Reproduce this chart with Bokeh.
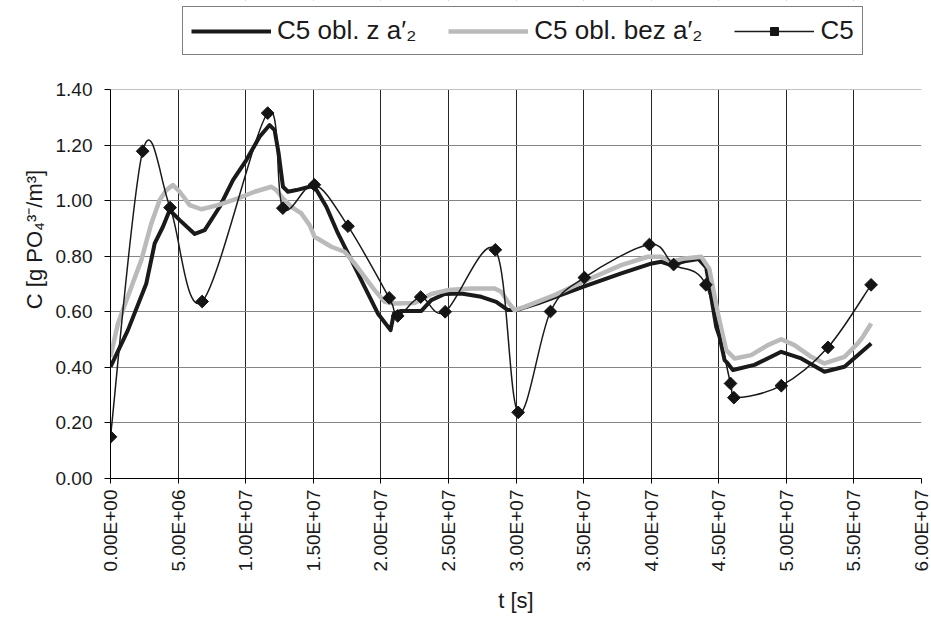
import numpy as np
from bokeh.plotting import figure
from bokeh.models import (Range1d, FixedTicker, NumeralTickFormatter, Legend,
                          LegendItem, BoxAnnotation)
from bokeh.embed import file_html
from bokeh.resources import INLINE

FONT = "Liberation Sans"

# Measured phosphate concentration C5 (t in s, C in g PO4^3-/m3)
t_c5 = [0.0, 2.38e6, 4.41e6, 6.78e6, 11.63e6, 12.75e6, 15.08e6, 17.57e6,
        20.62e6, 21.25e6, 22.95e6, 24.76e6, 28.47e6, 30.16e6, 32.55e6,
        35.06e6, 39.87e6, 41.66e6, 44.05e6, 45.87e6, 46.12e6, 49.63e6,
        53.08e6, 56.27e6]
c_c5 = [0.150, 1.178, 0.975, 0.637, 1.315, 0.973, 1.057, 0.908,
        0.650, 0.585, 0.653, 0.600, 0.823, 0.238, 0.601,
        0.723, 0.842, 0.770, 0.697, 0.342, 0.291, 0.334,
        0.472, 0.697]

# Model result with a2'
t_with = [0.0, 1.29e6, 2.65e6, 3.27e6, 3.88e6, 4.38e6, 5.12e6, 6.23e6, 6.97e6,
          8.08e6, 9.06e6, 10.05e6, 11.03e6, 11.77e6, 12.14e6, 12.44e6,
          12.76e6, 13.13e6, 13.75e6, 14.73e6, 15.10e6, 15.97e6, 16.83e6,
          17.82e6, 18.80e6, 19.78e6, 20.72e6, 20.97e6, 21.51e6, 23.00e6,
          23.73e6, 24.72e6, 25.95e6, 27.43e6, 28.54e6, 29.40e6, 30.02e6,
          31.62e6, 34.95e6, 37.79e6, 40.05e6, 40.74e6, 41.48e6, 42.47e6,
          43.50e6, 44.07e6, 44.44e6, 44.81e6, 45.06e6, 45.43e6, 45.67e6,
          46.05e6, 46.29e6, 47.64e6, 49.62e6, 51.10e6, 52.82e6, 54.30e6,
          56.28e6]
c_with = [0.402, 0.534, 0.702, 0.846, 0.906, 0.966, 0.930, 0.880, 0.894,
          0.978, 1.074, 1.146, 1.230, 1.272, 1.254, 1.170,
          1.050, 1.032, 1.038, 1.050, 1.050, 0.978, 0.882,
          0.786, 0.690, 0.594, 0.534, 0.594, 0.603, 0.603,
          0.642, 0.664, 0.666, 0.654, 0.636, 0.606, 0.606,
          0.630, 0.690, 0.738, 0.774, 0.780, 0.768, 0.782,
          0.790, 0.760, 0.654, 0.546, 0.510, 0.426, 0.414,
          0.390, 0.393, 0.409, 0.456, 0.432, 0.384, 0.402,
          0.486]

# Model result without a2'
t_without = [0.0, 0.55e6, 1.55e6, 2.28e6, 3.02e6, 3.64e6, 4.13e6, 4.62e6,
             5.12e6, 5.86e6, 6.72e6, 7.95e6, 9.43e6, 10.66e6, 11.90e6,
             12.27e6, 12.76e6, 13.38e6, 14.12e6, 14.73e6, 15.10e6, 16.34e6,
             17.32e6, 18.06e6, 18.80e6, 19.54e6, 20.28e6, 21.02e6, 22.50e6,
             23.73e6, 24.96e6, 26.69e6, 28.42e6, 28.91e6, 29.40e6, 29.89e6,
             30.63e6, 32.85e6, 34.95e6, 37.79e6, 39.75e6, 40.74e6, 41.48e6,
             42.47e6, 43.70e6, 44.30e6, 44.94e6, 45.55e6, 46.17e6, 47.40e6,
             48.63e6, 49.62e6, 50.60e6, 51.84e6, 52.82e6, 54.30e6, 55.29e6,
             55.66e6, 56.28e6]
c_without = [0.438, 0.558, 0.690, 0.786, 0.918, 1.002, 1.038, 1.056,
             1.032, 0.984, 0.969, 0.984, 1.008, 1.032, 1.050,
             1.038, 1.008, 0.978, 0.954, 0.912, 0.870, 0.834,
             0.816, 0.774, 0.726, 0.678, 0.636, 0.630, 0.632,
             0.664, 0.678, 0.684, 0.684, 0.672, 0.636, 0.606,
             0.618, 0.660, 0.708, 0.768, 0.798, 0.798, 0.780,
             0.792, 0.798, 0.755, 0.594, 0.462, 0.432, 0.444,
             0.480, 0.501, 0.480, 0.438, 0.414, 0.438, 0.486,
             0.510, 0.558]

x_ticks = [0, 5e6, 1e7, 1.5e7, 2e7, 2.5e7, 3e7, 3.5e7, 4e7, 4.5e7, 5e7, 5.5e7, 6e7]
x_tick_labels = ["0.00E+00", "5.00E+06", "1.00E+07", "1.50E+07", "2.00E+07",
                 "2.50E+07", "3.00E+07", "3.50E+07", "4.00E+07", "4.50E+07",
                 "5.00E+07", "5.50E+07", "6.00E+07"]
y_ticks = [0.0, 0.2, 0.4, 0.6, 0.8, 1.0, 1.2, 1.4]

# page layout (pixels): the frame reaches the top of the page so that the
# legend above the plotting area can live inside it
W, H = 931, 622
LEFT, RIGHT, BOTTOM = 110, 10, 144
PLOT_H = 389                      # height of the 0 .. 1.4 band
frame_h = H - BOTTOM
y_top = y_ticks[-1] * frame_h / PLOT_H

p = figure(width=W, height=H, output_backend="svg", toolbar_location=None,
           x_range=Range1d(x_ticks[0], x_ticks[-1]),
           y_range=Range1d(y_ticks[0], y_top),
           min_border_left=LEFT, min_border_right=RIGHT,
           min_border_top=0, min_border_bottom=BOTTOM)
p.background_fill_color = "white"
p.border_fill_color = "white"
p.outline_line_color = None

# grid
p.xgrid.ticker = FixedTicker(ticks=x_ticks)
p.xgrid.grid_line_color = "#262626"
p.xgrid.grid_line_width = 1
p.ygrid.ticker = FixedTicker(ticks=y_ticks)
p.ygrid.grid_line_color = "#858585"
p.ygrid.grid_line_width = 1

# blank band above the plotting area (hides the grid there)
p.add_layout(BoxAnnotation(bottom=y_ticks[-1], fill_color="white",
                           fill_alpha=1.0, line_color=None, level="underlay"))

# axes
for ax in (p.xaxis[0], p.yaxis[0]):
    ax.axis_line_color = "black"
    ax.major_tick_line_color = "black"
    ax.minor_tick_line_color = None
    ax.major_tick_in = 0
    ax.major_label_text_font = FONT
    ax.major_label_text_font_size = "19px"
    ax.major_label_text_color = "#1a1a1a"
    ax.axis_label_text_font = FONT
    ax.axis_label_text_font_size = "22px"
    ax.axis_label_text_font_style = "normal"
    ax.axis_label_text_color = "#1a1a1a"

p.xaxis.ticker = FixedTicker(ticks=x_ticks)
p.xaxis.major_label_overrides = {v: s for v, s in zip(x_ticks, x_tick_labels)}
p.xaxis.major_label_orientation = np.pi / 2
p.xaxis.major_tick_out = 5
p.xaxis.major_label_standoff = 6
p.xaxis.axis_label = "t [s]"
p.xaxis.axis_label_standoff = 14

p.yaxis.ticker = FixedTicker(ticks=y_ticks)
p.yaxis.bounds = (y_ticks[0], y_ticks[-1])
p.yaxis.formatter = NumeralTickFormatter(format="0.00")
p.yaxis.major_tick_out = 6
p.yaxis.major_label_standoff = 12
p.yaxis.axis_label = "C [g PO\u2084\u00b3\u207b/m\u00b3]"
p.yaxis.axis_label_standoff = 6

# model curves
r_with = p.line(t_with, c_with, line_color="#1a1a1a", line_width=4,
                line_join="round")
r_without = p.line(t_without, c_without, line_color="#bababa", line_width=4.5,
                   line_join="round")

# smoothed measurement line: cubic Bezier segments through the points
tx = np.array(t_c5)
cy = np.array(c_c5)
px_prev = np.r_[tx[0], tx[:-2]]
py_prev = np.r_[cy[0], cy[:-2]]
px_next2 = np.r_[tx[2:], tx[-1]]
py_next2 = np.r_[cy[2:], cy[-1]]
x0, y0 = tx[:-1], cy[:-1]
x1, y1 = tx[1:], cy[1:]
cx0 = x0 + (x1 - px_prev) / 6.0
cy0 = y0 + (y1 - py_prev) / 6.0
cx1 = x1 - (px_next2 - x0) / 6.0
cy1 = y1 - (py_next2 - y0) / 6.0
r_c5_line = p.bezier(x0=x0, y0=y0, x1=x1, y1=y1, cx0=cx0, cy0=cy0,
                     cx1=cx1, cy1=cy1, line_color="#1a1a1a", line_width=1.5)
r_c5_pts = p.scatter(t_c5, c_c5, marker="square", angle=np.pi / 4, size=9,
                     fill_color="#141414", line_color="#141414")

legend = Legend(items=[
    LegendItem(label="C5 obl. z a\u2032\u2082", renderers=[r_with]),
    LegendItem(label="C5 obl. bez a\u2032\u2082", renderers=[r_without]),
    LegendItem(label="C5", renderers=[r_c5_line, r_c5_pts]),
], location=(72, frame_h - 55), orientation="horizontal", margin=0)
legend.label_text_font = FONT
legend.label_text_font_size = "26px"
legend.label_text_color = "#1a1a1a"
legend.glyph_width = 80
legend.glyph_height = 20
legend.label_standoff = 6
legend.spacing = 32
legend.padding = 8
legend.border_line_color = "black"
legend.border_line_width = 1
legend.background_fill_color = "white"
legend.background_fill_alpha = 1.0
p.add_layout(legend)

open("out.html", "w").write(file_html(p, INLINE))
